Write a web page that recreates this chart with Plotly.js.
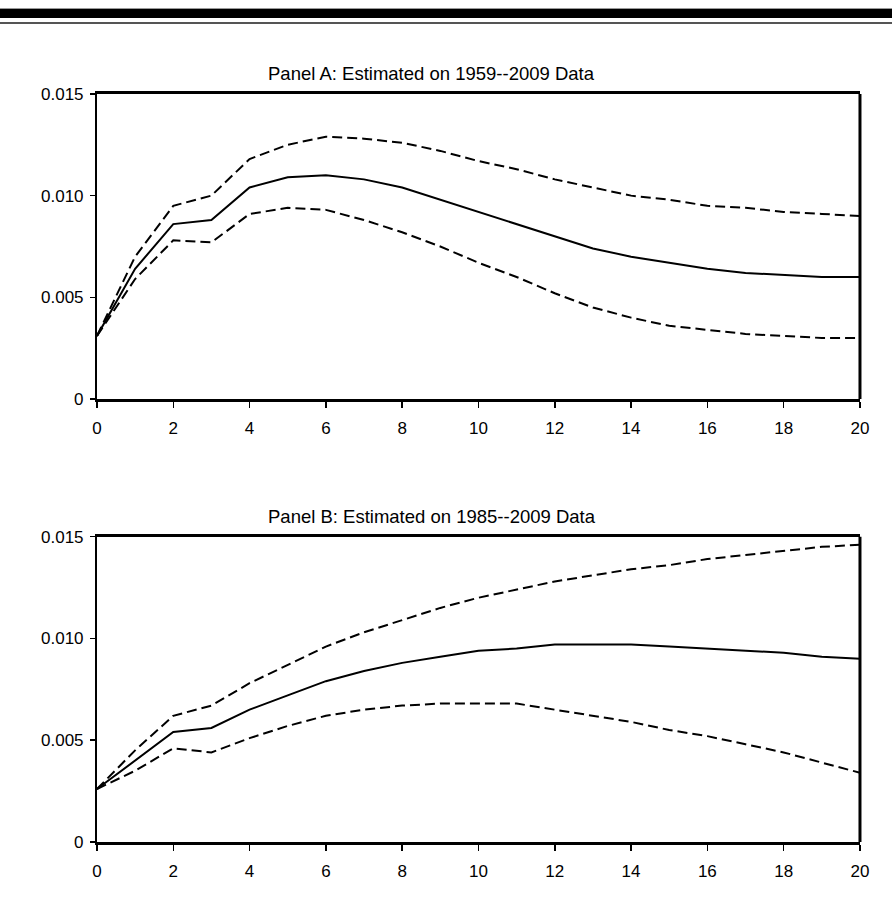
<!DOCTYPE html>
<html>
<head>
<meta charset="utf-8">
<script src="https://cdn.plot.ly/plotly-3.0.1.min.js"></script>
<style>
  body { margin: 0; background: #fff; }
  #wrap { position: relative; width: 892px; height: 907px; }
  .rule1 { position: absolute; left: 0; top: 8px; width: 892px; height: 1px; background: #999; }
  .rule2 { position: absolute; left: 0; top: 9px; width: 892px; height: 9px; background: #000; }
  .rule3 { position: absolute; left: 0; top: 22px; width: 892px; height: 2px; background: #555; }
  #chart { position: absolute; left: 0; top: 0; width: 892px; height: 907px; }
</style>
</head>
<body>
<div id="wrap">
  <div id="chart"></div>
  <div class="rule1"></div>
  <div class="rule2"></div>
  <div class="rule3"></div>
</div>
<script>
var horizon = [0,1,2,3,4,5,6,7,8,9,10,11,12,13,14,15,16,17,18,19,20];

// Panel A: 1959--2009
var aMid   = [0.0031,0.0064,0.0086,0.0088,0.0104,0.0109,0.0110,0.0108,0.0104,0.0098,0.0092,0.0086,0.0080,0.0074,0.0070,0.0067,0.0064,0.0062,0.0061,0.0060,0.0060];
var aUpper = [0.0031,0.0070,0.0095,0.0100,0.0118,0.0125,0.0129,0.0128,0.0126,0.0122,0.0117,0.0113,0.0108,0.0104,0.0100,0.0098,0.0095,0.0094,0.0092,0.0091,0.0090];
var aLower = [0.0031,0.0059,0.0078,0.0077,0.0091,0.0094,0.0093,0.0088,0.0082,0.0075,0.0067,0.0060,0.0052,0.0045,0.0040,0.0036,0.0034,0.0032,0.0031,0.0030,0.0030];

// Panel B: 1985--2009
var bMid   = [0.0026,0.0040,0.0054,0.0056,0.0065,0.0072,0.0079,0.0084,0.0088,0.0091,0.0094,0.0095,0.0097,0.0097,0.0097,0.0096,0.0095,0.0094,0.0093,0.0091,0.0090];
var bUpper = [0.0026,0.0045,0.0062,0.0067,0.0078,0.0087,0.0096,0.0103,0.0109,0.0115,0.0120,0.0124,0.0128,0.0131,0.0134,0.0136,0.0139,0.0141,0.0143,0.0145,0.0146];
var bLower = [0.0026,0.0035,0.0046,0.0044,0.0051,0.0057,0.0062,0.0065,0.0067,0.0068,0.0068,0.0068,0.0065,0.0062,0.0059,0.0055,0.0052,0.0048,0.0044,0.0039,0.0034];

var yTicks = [0, 0.005, 0.010, 0.015];
var yTickText = ["0", "0.005", "0.010", "0.015"];
var xTicks = [0,2,4,6,8,10,12,14,16,18,20];

var fnt = "Liberation Sans, Arial, sans-serif";
var solid = {color: "#000", width: 2};
var dashed = {color: "#000", width: 2, dash: "10px,5px"};

function tr(y, xa, ya, line) {
    return {x: horizon, y: y, xaxis: xa, yaxis: ya, type: "scatter", mode: "lines", line: line, hoverinfo: "skip"};
}

var data = [
    tr(aUpper, "x", "y", dashed),
    tr(aLower, "x", "y", dashed),
    tr(aMid, "x", "y", solid),
    tr(bUpper, "x2", "y2", dashed),
    tr(bLower, "x2", "y2", dashed),
    tr(bMid, "x2", "y2", solid)
];

function xax(anchor) {
    return {
        domain: [0.1087, 0.9641], anchor: anchor, range: [0, 20],
        tickvals: xTicks, ticks: "outside", ticklen: 6, tickwidth: 1.5, tickcolor: "#000",
        showline: true, linewidth: 3, linecolor: "#000", mirror: true,
        showgrid: false, zeroline: false, ticklabelstandoff: 6,
        tickfont: {family: fnt, size: 17, color: "#000"}
    };
}
function yax(anchor, dom) {
    return {
        domain: dom, anchor: anchor, range: [0, 0.015],
        tickvals: yTicks, ticktext: yTickText, ticks: "outside", ticklen: 5, tickwidth: 1.5, tickcolor: "#000",
        showline: true, linewidth: 2, linecolor: "#000", mirror: false,
        showgrid: false, zeroline: false, ticklabelstandoff: 3,
        tickfont: {family: fnt, size: 17, color: "#000"}
    };
}

function rightEdge(xr, yr) {
    return {type: "line", xref: xr + " domain", yref: yr + " domain", x0: 1, x1: 1, y0: 0, y1: 1,
            line: {color: "#000", width: 3}};
}

var layout = {
    width: 892, height: 907,
    margin: {l: 0, r: 0, t: 0, b: 0},
    paper_bgcolor: "#fff", plot_bgcolor: "#fff",
    showlegend: false,
    xaxis: xax("y"),
    yaxis: yax("x", [0.5601, 0.8964]),
    xaxis2: xax("y2"),
    yaxis2: yax("x2", [0.0717, 0.4083]),
    shapes: [rightEdge("x", "y"), rightEdge("x2", "y2")],
    annotations: [
        {text: "Panel A: Estimated on 1959--2009 Data", xref: "paper", yref: "paper", x: 0.484, y: 0.919,
         xanchor: "center", yanchor: "middle", showarrow: false, font: {family: fnt, size: 18.5, color: "#000"}},
        {text: "Panel B: Estimated on 1985--2009 Data", xref: "paper", yref: "paper", x: 0.484, y: 0.431,
         xanchor: "center", yanchor: "middle", showarrow: false, font: {family: fnt, size: 18.5, color: "#000"}}
    ]
};

Plotly.newPlot("chart", data, layout, {staticPlot: true});
</script>
</body>
</html>
